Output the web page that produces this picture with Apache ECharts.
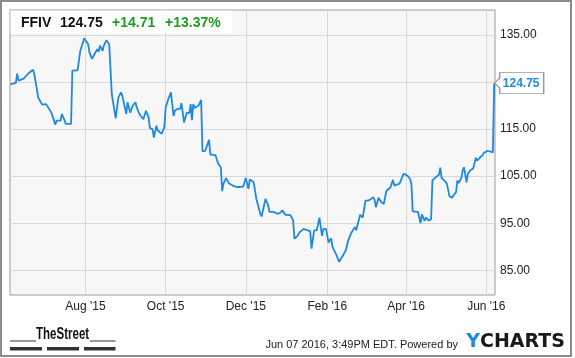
<!DOCTYPE html>
<html>
<head>
<meta charset="utf-8">
<script src="https://cdn.jsdelivr.net/npm/echarts@6/dist/echarts.min.js"></script>
<style>
html,body{margin:0;padding:0;background:#fff;}
#chart{width:575px;height:358px;}
</style>
</head>
<body>
<div id="chart"></div>
<script>
const dates = [
'2015-06-05','2015-06-09','2015-06-10','2015-06-11','2015-06-15','2015-06-18','2015-06-22','2015-06-23','2015-06-25','2015-06-26','2015-06-29',
'2015-07-02','2015-07-06','2015-07-07','2015-07-09','2015-07-10','2015-07-13','2015-07-14','2015-07-16','2015-07-17','2015-07-21','2015-07-22','2015-07-26','2015-07-27','2015-07-28','2015-07-31',
'2015-08-03','2015-08-04','2015-08-06','2015-08-08','2015-08-10','2015-08-11','2015-08-12','2015-08-14','2015-08-15','2015-08-17','2015-08-19','2015-08-20','2015-08-21','2015-08-24','2015-08-26','2015-08-28','2015-08-29',
'2015-09-01','2015-09-02','2015-09-04','2015-09-06','2015-09-08','2015-09-09','2015-09-10','2015-09-11','2015-09-14','2015-09-16','2015-09-18','2015-09-19','2015-09-20','2015-09-21','2015-09-22','2015-09-24','2015-09-25','2015-09-26','2015-09-28','2015-09-30',
'2015-10-01','2015-10-03','2015-10-05','2015-10-07','2015-10-08','2015-10-10','2015-10-12','2015-10-13','2015-10-15','2015-10-17','2015-10-19','2015-10-20','2015-10-21','2015-10-22','2015-10-23','2015-10-26','2015-10-28','2015-10-29','2015-10-31',
'2015-11-03','2015-11-04','2015-11-06','2015-11-08','2015-11-10','2015-11-12','2015-11-13','2015-11-14','2015-11-16','2015-11-18','2015-11-21','2015-11-24','2015-11-27','2015-11-29',
'2015-12-01','2015-12-03','2015-12-04','2015-12-07','2015-12-08','2015-12-09','2015-12-12','2015-12-13','2015-12-14','2015-12-16','2015-12-18','2015-12-19','2015-12-22','2015-12-23','2015-12-25','2015-12-27','2015-12-29','2015-12-31',
'2016-01-04','2016-01-06','2016-01-07','2016-01-09','2016-01-11','2016-01-12','2016-01-14','2016-01-16','2016-01-19','2016-01-20','2016-01-21','2016-01-22','2016-01-24','2016-01-26','2016-01-28','2016-01-29','2016-01-31',
'2016-02-02','2016-02-04','2016-02-05','2016-02-08','2016-02-10','2016-02-13','2016-02-15','2016-02-17','2016-02-19','2016-02-22','2016-02-23','2016-02-26','2016-02-28',
'2016-03-01','2016-03-02','2016-03-03','2016-03-05','2016-03-07','2016-03-08','2016-03-09','2016-03-11','2016-03-13','2016-03-15','2016-03-17','2016-03-20','2016-03-22','2016-03-23','2016-03-27','2016-03-30','2016-03-31',
'2016-04-02','2016-04-04','2016-04-05','2016-04-06','2016-04-10','2016-04-12','2016-04-13','2016-04-15','2016-04-16','2016-04-18','2016-04-20','2016-04-21','2016-04-24','2016-04-26','2016-04-27','2016-04-28','2016-04-30',
'2016-05-02','2016-05-04','2016-05-06','2016-05-07','2016-05-09','2016-05-10','2016-05-11','2016-05-13','2016-05-14','2016-05-15','2016-05-17','2016-05-18','2016-05-19','2016-05-20','2016-05-22','2016-05-24','2016-05-25','2016-05-27','2016-05-29','2016-05-30','2016-05-31',
'2016-06-02','2016-06-03','2016-06-06','2016-06-07'
];
const prices = [
124.5,124.8,126.8,125.3,125.7,126.7,127.6,126.7,123.5,121.7,120.2,
120.3,118.5,117.7,115.9,116.8,116.8,118.2,116.9,116.1,116.1,127.4,127.5,127.7,131.6,134.3,
133.0,131.3,129.9,131.0,132.0,131.4,132.7,131.6,132.8,133.9,133.0,128.0,122.4,117.3,121.7,122.8,122.1,
118.2,120.7,118.5,120.0,120.7,119.6,120.0,118.2,117.1,118.9,117.5,115.2,115.4,115.0,113.2,115.7,114.7,114.3,114.0,115.4,
119.6,121.4,122.8,117.8,118.9,119.3,119.3,120.5,116.4,118.5,118.4,120.3,116.9,120.3,119.5,120.0,121.2,110.3,110.3,
112.7,109.6,109.5,109.4,107.6,106.9,101.8,103.4,104.6,103.5,103.0,102.7,102.7,102.8,
104.6,102.3,104.3,103.7,103.4,100.2,97.0,96.4,96.2,100.2,98.8,97.4,97.4,97.6,97.0,97.2,97.7,96.8,
96.7,95.6,91.7,92.2,93.1,92.8,93.8,93.6,93.3,89.6,89.2,93.5,93.5,96.2,92.3,93.8,93.8,
90.9,91.8,89.9,88.2,86.8,88.2,89.2,91.4,92.8,94.2,93.5,96.8,96.2,
99.8,100.2,99.8,100.1,100.5,100.0,98.4,100.4,99.5,99.1,101.9,102.6,104.2,103.0,103.4,105.5,105.6,
105.1,104.4,103.4,97.5,97.4,95.0,96.9,95.5,96.2,95.6,95.8,104.1,104.9,105.3,106.8,104.6,104.1,
103.4,100.7,100.4,100.9,101.6,104.1,103.5,104.6,106.2,106.9,103.7,105.5,105.3,106.3,106.6,108.9,108.3,108.9,109.4,109.9,109.5,
110.4,110.1,110.04,124.75
];
const xTickDates = ['2015-08-01','2015-10-01','2015-12-01','2016-02-01','2016-04-01','2016-06-01'];
const yTickValues = [85, 95, 105, 115, 125, 135];
const yLabelValues = [85, 95, 105, 115, 135];
const ticker = 'FFIV';
const lastPrice = '124.75';
const change = '+14.71';
const changePct = '+13.37%';
const footerText = 'Jun 07 2016, 3:49PM EDT. Powered by';

function parseLocal(s, h) {
  const p = s.split('-').map(Number);
  return new Date(p[0], p[1] - 1, p[2], h || 0).getTime();
}
const MON = ['Jan','Feb','Mar','Apr','May','Jun','Jul','Aug','Sep','Oct','Nov','Dec'];
const seriesData = dates.map((d, i) => [parseLocal(d), prices[i]]);
const xTicks = xTickDates.map(d => parseLocal(d));

const FONT = '"Liberation Sans", Arial, sans-serif';
const BLUE = '#1e88e5';

const chart = echarts.init(document.getElementById('chart'), null, {renderer: 'canvas'});
chart.setOption({
  animation: false,
  backgroundColor: '#ffffff',
  grid: {
    left: 10, top: 10, width: 485, height: 285,
    show: true, backgroundColor: '#f7f7f7', borderColor: '#9a9a9a', borderWidth: 1
  },
  xAxis: {
    type: 'value',
    min: parseLocal('2015-06-04', 13),
    max: parseLocal('2016-06-07', 15),
    axisLine: {show: false},
    axisTick: {show: false, customValues: xTicks},
    splitLine: {show: true, lineStyle: {color: '#d9d9d9', width: 1}},
    axisLabel: {
      customValues: xTicks,
      margin: 6,
      color: '#222',
      fontFamily: FONT,
      fontSize: 12,
      formatter: function (v) {
        const d = new Date(v);
        return MON[d.getMonth()] + " '" + String(d.getFullYear()).slice(2);
      }
    }
  },
  yAxis: {
    type: 'value',
    position: 'right',
    min: 79.75,
    max: 140.3,
    axisLine: {show: false},
    axisTick: {show: false, customValues: yTickValues},
    splitLine: {show: true, lineStyle: {color: '#d9d9d9', width: 1}},
    axisLabel: {
      customValues: yLabelValues,
      margin: 5,
      color: '#222',
      fontFamily: FONT,
      fontSize: 12,
      formatter: v => v.toFixed(2)
    }
  },
  series: [{
    type: 'line',
    data: seriesData,
    showSymbol: false,
    symbol: 'none',
    lineStyle: {color: BLUE, width: 1.8},
    emphasis: {disabled: true},
    markPoint: {
      silent: true,
      symbol: 'path://M0,10.5 L5,5.5 L5,0 L49,0 L49,21 L5,21 L5,15.5 Z',
      symbolSize: [49, 21],
      symbolOffset: [25, 0],
      itemStyle: {color: '#ffffff', borderColor: '#999', borderWidth: 1},
      label: {
        show: true, position: 'inside', offset: [2, 0],
        formatter: lastPrice,
        color: BLUE, fontWeight: 'bold', fontSize: 12, fontFamily: FONT
      },
      data: [{coord: [parseLocal(dates[dates.length - 1]), prices[prices.length - 1]]}]
    }
  }],
  graphic: [
    {type: 'rect', shape: {x: 1, y: 1, width: 570, height: 355}, style: {fill: 'none', stroke: '#8c8c8c', lineWidth: 2}, z: 100},
    {type: 'rect', shape: {x: 10.5, y: 10.5, width: 222, height: 23}, style: {fill: 'rgba(255,255,255,0.85)'}, z: 50},
    {type: 'text', x: 21, y: 23.5, style: {text: ticker, fill: '#111', font: 'bold 14px ' + FONT, verticalAlign: 'middle'}, z: 51},
    {type: 'text', x: 60, y: 23.5, style: {text: lastPrice, fill: '#111', font: 'bold 14px ' + FONT, verticalAlign: 'middle'}, z: 51},
    {type: 'text', x: 112, y: 23.5, style: {text: change, fill: '#1e9e1e', font: 'bold 14px ' + FONT, verticalAlign: 'middle'}, z: 51},
    {type: 'text', x: 165, y: 23.5, style: {text: changePct, fill: '#1e9e1e', font: 'bold 14px ' + FONT, verticalAlign: 'middle'}, z: 51},
    {type: 'text', x: 36, y: 335, scaleX: 0.72, style: {text: 'TheStreet', fill: '#111', font: 'bold 16px ' + FONT, verticalAlign: 'middle'}, z: 51},
    {type: 'rect', shape: {x: 10, y: 340.5, width: 26, height: 1}, style: {fill: '#333'}},
    {type: 'rect', shape: {x: 90, y: 340.5, width: 25.5, height: 1}, style: {fill: '#333'}},
    {type: 'rect', shape: {x: 10, y: 347, width: 32, height: 3.5}, style: {fill: '#333'}},
    {type: 'rect', shape: {x: 47, y: 347, width: 32, height: 3.5}, style: {fill: '#333'}},
    {type: 'rect', shape: {x: 84, y: 347, width: 31.5, height: 3.5}, style: {fill: '#333'}},
    {type: 'text', x: 458, y: 345, style: {text: footerText, fill: '#222', font: '11px ' + FONT, align: 'right', verticalAlign: 'middle'}},
    {type: 'text', x: 565, y: 342, style: {
      text: '{y|Y}{c|CHARTS}', align: 'right', verticalAlign: 'middle',
      rich: {
        y: {fill: '#1a8cd8', font: 'bold 19px "DejaVu Sans", sans-serif'},
        c: {fill: '#1a1a1a', font: 'bold 19px "DejaVu Sans", sans-serif'}
      }
    }}
  ]
});
</script>
</body>
</html>
